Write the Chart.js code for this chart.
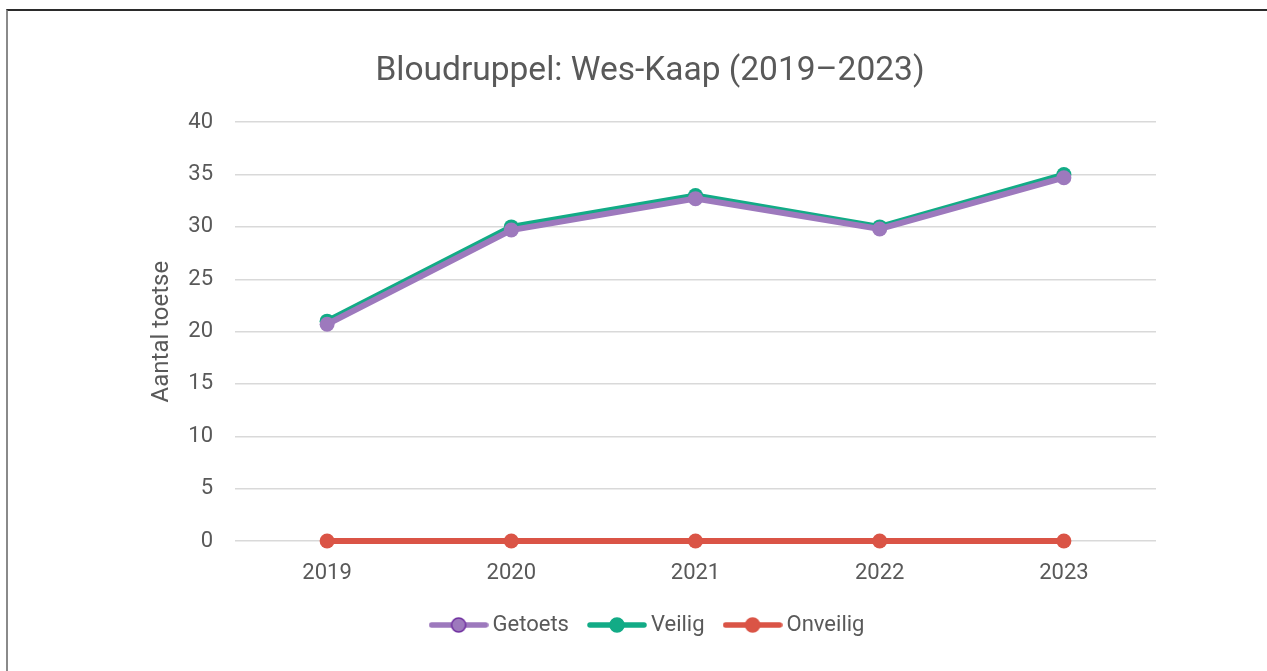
<!DOCTYPE html>
<html>
<head>
<meta charset="utf-8">
<script src="https://cdn.jsdelivr.net/npm/chart.js@4"></script>
<style>
  html, body { margin: 0; padding: 0; background: #fff; overflow: hidden; }
  #wrap { position: absolute; left: 0; top: 0; width: 1267px; height: 671px; }
  #frame { position: absolute; left: 6px; top: 9px; width: 1300px; height: 700px;
           border-top: 2px solid #2b2b2b; border-left: 2px solid #8a8a8a; }
</style>
</head>
<body>
<div id="frame"></div>
<div id="wrap"><canvas id="chart" width="1267" height="671"></canvas></div>
<script>
// data
const years = ["2019", "2020", "2021", "2022", "2023"];
const getoets = [20.7, 29.7, 32.7, 29.8, 34.7];
const veilig = [21, 30, 33, 30, 35];
const onveilig = [0, 0, 0, 0, 0];
const seriesNames = ["Getoets", "Veilig", "Onveilig"];
const yTicks = [0, 5, 10, 15, 20, 25, 30, 35, 40];

const colors = ["#9d79bd", "#12ab86", "#da5446"];
const markerEdge = ["#7030a0", "#12ab86", "#da5446"];

// legend icon: line with dot in the middle
function legendIcon(i) {
  const c = document.createElement("canvas");
  c.width = 60; c.height = 18;
  const g = c.getContext("2d");
  g.strokeStyle = colors[i];
  g.lineWidth = 5.5;
  g.lineCap = "round";
  g.beginPath(); g.moveTo(3, 9); g.lineTo(57, 9); g.stroke();
  g.fillStyle = colors[i];
  g.strokeStyle = markerEdge[i];
  g.lineWidth = 1.5;
  g.beginPath(); g.arc(30, 9, 7, 0, Math.PI * 2); g.fill(); g.stroke();
  return c;
}

const allData = [getoets, veilig, onveilig];
const datasets = allData.map((d, i) => ({
  label: seriesNames[i],
  data: d,
  borderColor: colors[i],
  backgroundColor: colors[i],
  borderWidth: 6,
  pointRadius: 7.5,
  pointHoverRadius: 7.5,
  pointBorderWidth: 0,
  pointBackgroundColor: colors[i],
  tension: 0,
  clip: false
}));

new Chart(document.getElementById("chart"), {
  type: "line",
  data: { labels: years, datasets },
  options: {
    responsive: false,
    animation: false,
    layout: { padding: { left: 144, right: 111, top: 0, bottom: 25 } },
    plugins: {
      title: {
        display: true,
        text: "Bloudruppel: Wes-Kaap (2019\u20132023)",
        color: "#595959",
        font: { family: "Roboto", size: 33.5, weight: "normal" },
        padding: { top: 52, bottom: 30 }
      },
      legend: {
        position: "bottom",
        labels: {
          usePointStyle: true,
          pointStyleWidth: 46,
          padding: 25,
          color: "#595959",
          font: { family: "Roboto", size: 22 },
          generateLabels: chart => chart.data.datasets.map((ds, i) => ({
            text: ds.label,
            pointStyle: legendIcon(i),
            fontColor: "#595959",
            datasetIndex: i,
            lineWidth: 0,
            strokeStyle: "transparent",
            fillStyle: "transparent"
          }))
        }
      },
      tooltip: { enabled: false }
    },
    scales: {
      x: {
        offset: true,
        grid: { display: false, drawTicks: false },
        border: { display: false },
        ticks: { color: "#595959", font: { family: "Roboto", size: 22 }, padding: 19 },
        afterFit: s => { s.height = 48; }
      },
      y: {
        min: 0, max: 40,
        afterBuildTicks: s => { s.ticks = yTicks.map(v => ({ value: v })); },
        grid: { color: "#d9d9d9", lineWidth: 1.5, drawTicks: false },
        border: { display: false },
        ticks: { color: "#595959", font: { family: "Roboto", size: 22 }, padding: 22 },
        title: {
          display: true,
          text: "Aantal toetse",
          color: "#595959",
          font: { family: "Roboto", size: 24 },
          padding: { top: 4, bottom: 0 }
        },
        afterFit: s => { s.width = 91; }
      }
    }
  }
});
</script>
</body>
</html>
